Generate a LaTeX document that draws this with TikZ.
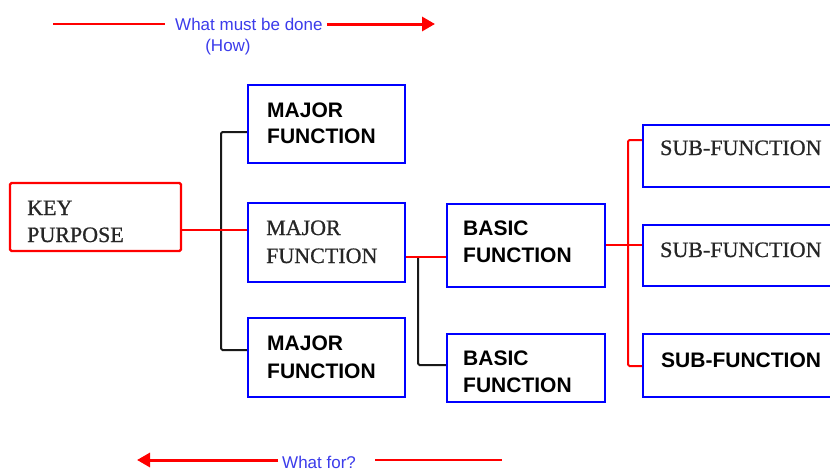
\documentclass[tikz,border=0pt]{standalone}
\usepackage{fontspec}
\setmainfont{Liberation Serif}
\newfontfamily\arialf{Liberation Sans}
\newfontfamily\timesf[FakeBold=0.8]{Liberation Serif}
\usetikzlibrary{arrows.meta}
\definecolor{boxblue}{RGB}{0,0,255}
\definecolor{lred}{RGB}{255,0,0}
\definecolor{txtblue}{RGB}{60,60,235}
\definecolor{dk}{RGB}{25,25,25}
\begin{document}
\begin{tikzpicture}[x=1pt,y=-1pt,
  fbox/.style={draw=boxblue,line width=2.2pt,inner sep=0pt,minimum width=157pt},
  kbox/.style={draw=lred,line width=2.2pt,inner sep=0pt,rounded corners=1.5pt},
  sansb/.style={font=\arialf\bfseries\fontsize{21}{26}\selectfont,anchor=base west,inner sep=0pt,text=black},
  serf/.style={font=\timesf\fontsize{22}{26}\selectfont,anchor=base west,inner sep=0pt,text=black!85},
  lbl/.style={font=\arialf\fontsize{17}{20}\selectfont,inner sep=0pt,text=txtblue},
  redc/.style={draw=lred,line width=2pt,rounded corners=1.5pt},
  blkc/.style={draw=dk,line width=2pt,rounded corners=1.5pt},
  thinr/.style={draw=lred,line width=1.2pt},
  thickr/.style={draw=lred,line width=3pt,-{Triangle[length=13pt,width=14pt]}}
]
\useasboundingbox (0,0) rectangle (830,471);
\clip (0,0) rectangle (830,471);
\fill[white] (0,0) rectangle (830,471);

% boxes
\node[kbox,minimum width=171pt,minimum height=68pt] (key) at (95.5,217) {};
\node[fbox,minimum height=78pt] (maj1) at (326.5,124) {};
\node[fbox,minimum height=79pt] (maj2) at (326.5,242.5) {};
\node[fbox,minimum height=79pt] (maj3) at (326.5,357.5) {};
\node[fbox,minimum width=158pt,minimum height=83pt] (bas1) at (526,245.5) {};
\node[fbox,minimum width=158pt,minimum height=68pt] (bas2) at (526,368) {};
\node[fbox,minimum width=200pt,minimum height=62pt] (sub1) at (743,156) {};
\node[fbox,minimum width=200pt,minimum height=61pt] (sub2) at (743,255.5) {};
\node[fbox,minimum width=200pt,minimum height=63pt] (sub3) at (743,365.5) {};

% texts
\node[serf] (k1) at (27,215) {KEY};
\node[serf] (k2) at (27,242) {PURPOSE};
\node[sansb] (m1a) at (267,117) {MAJOR};
\node[sansb] (m1b) at (267,143) {FUNCTION};
\node[serf] (m2a) at (266,235) {MAJOR};
\node[serf] (m2b) at (266,263) {FUNCTION};
\node[sansb] (m3a) at (267,350) {MAJOR};
\node[sansb] (m3b) at (267,378) {FUNCTION};
\node[sansb] (b1a) at (463,235) {BASIC};
\node[sansb] (b1b) at (463,262) {FUNCTION};
\node[sansb] (b2a) at (463,365) {BASIC};
\node[sansb] (b2b) at (463,392) {FUNCTION};
\node[serf] (s1) at (660,155) {SUB-FUNCTION};
\node[serf] (s2) at (660,257) {SUB-FUNCTION};
\node[sansb] (s3) at (661,367) {SUB-FUNCTION};

% connectors: key purpose -> major functions
\coordinate (bt) at (221,132);
\coordinate (bb) at (221,350);
\coordinate (kj) at (221,230);
\draw[blkc] (maj1.west |- bt) -- (bt) -- (bb) -- (maj3.west |- bb);
\draw[redc] (key.east |- kj) -- (maj2.west |- kj);

% major 2 -> basic functions
\coordinate (mj) at (418,257);
\coordinate (mb) at (418,365);
\draw[blkc] (mj) -- (mb) -- (bas2.west |- mb);
\draw[redc] (maj2.east |- mj) -- (bas1.west |- mj);

% basic 1 -> sub functions
\coordinate (st) at (628,140);
\coordinate (sb) at (628,366);
\coordinate (sj) at (628,245);
\draw[redc] (sub1.west |- st) -- (st) -- (sb) -- (sub3.west |- sb);
\draw[redc] (bas1.east |- sj) -- (sub2.west |- sj);

% top direction label
\node[lbl,anchor=base west] (how1) at (175,30) {What must be done};
\node[lbl,anchor=base] (how2) at (228,51) {(How)};
\coordinate (tl) at (53,24);
\coordinate (tr) at (435,24);
\draw[thinr] (tl) -- ([xshift=-10pt]how1.west |- tl);
\draw[thickr] ([xshift=4pt]how1.east |- tr) -- (tr);

% bottom direction label
\node[lbl,anchor=base west] (wf) at (282,468) {What for?};
\coordinate (bl) at (137,460);
\coordinate (br) at (502,460);
\draw[thickr] ([xshift=-4pt]wf.west |- bl) -- (bl);
\draw[thinr] ([xshift=19pt]wf.east |- br) -- (br);
\end{tikzpicture}
\end{document}
